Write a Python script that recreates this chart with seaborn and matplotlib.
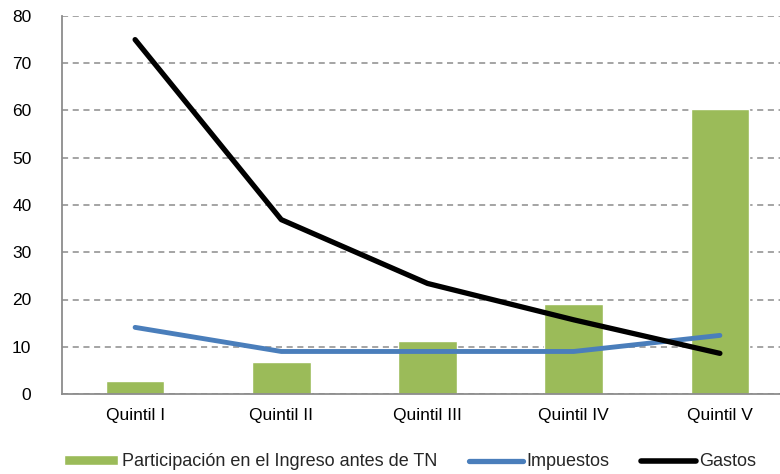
import matplotlib
matplotlib.use("Agg")
import matplotlib.pyplot as plt
import seaborn as sns
from matplotlib.patches import Patch
from matplotlib.lines import Line2D

# Data
quintiles = ["Quintil I", "Quintil II", "Quintil III", "Quintil IV", "Quintil V"]
participacion = [2.8, 6.8, 11.2, 19.0, 60.4]
impuestos = [14.1, 9.0, 9.0, 9.0, 12.4]
gastos = [75.0, 36.9, 23.4, 15.7, 8.6]

sns.set_style("white")
plt.rcParams["font.family"] = ["Liberation Sans", "DejaVu Sans"]

fig = plt.figure(figsize=(7.8, 4.74), dpi=100)
ax = fig.add_axes([62 / 780, 1 - 394 / 474, 731 / 780, 378 / 474])

sns.barplot(x=quintiles, y=participacion, color="#9BBB59", width=0.4,
            saturation=1, ax=ax, zorder=2)
sns.lineplot(x=quintiles, y=impuestos, color="#4A7EBB", linewidth=3.5,
             sort=False, ax=ax, zorder=3)
sns.lineplot(x=quintiles, y=gastos, color="black", linewidth=3.8,
             sort=False, ax=ax, zorder=4)

ax.set_ylim(0, 80)
ax.set_xlim(-0.5, 4.5)
ax.set_yticks(range(0, 81, 10))
ax.yaxis.grid(True, linestyle=(0, (4, 3)), color="#8C8C8C", linewidth=1.1, zorder=0)
ax.set_axisbelow(True)
for s in ["top", "right"]:
    ax.spines[s].set_visible(False)
for s in ["left", "bottom"]:
    ax.spines[s].set_color("#8C8C8C")
    ax.spines[s].set_linewidth(1.3)

ax.set_xticks([0, 1, 2, 3, 4])
ax.set_xticklabels(quintiles)
ax.tick_params(axis="x", length=0, pad=10, labelsize=12.5, colors="black")
ax.set_xticks([0.5, 1.5, 2.5, 3.5], minor=True)
ax.tick_params(axis="x", which="minor", length=5, color="#8C8C8C", width=1.3)
ax.tick_params(axis="y", length=5, color="#8C8C8C", width=1.3, labelsize=12.5,
               pad=17, labelcolor="black")
ax.set_xlabel("")
ax.set_ylabel("")

handles = [
    Patch(facecolor="#9BBB59", label="Participación en el Ingreso antes de TN"),
    Line2D([0], [0], color="#4A7EBB", linewidth=3.8, label="Impuestos"),
    Line2D([0], [0], color="black", linewidth=4.0, label="Gastos"),
]
fig.legend(handles=handles, loc="center", bbox_to_anchor=(0.526, 1 - 462 / 474),
           ncol=3, frameon=False, fontsize=13, handlelength=3.0,
           handleheight=0.4, handletextpad=0.2, columnspacing=1.75)

fig.savefig("out.png", dpi=100)
